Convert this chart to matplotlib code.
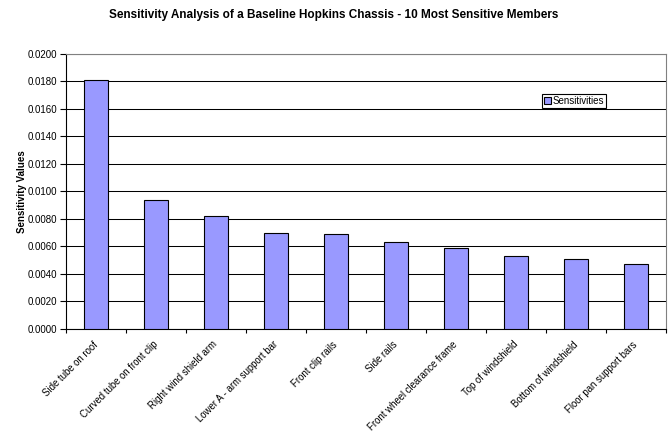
import numpy as np
import matplotlib
matplotlib.use("Agg")
import matplotlib.pyplot as plt

plt.rcParams['font.family'] = ['Liberation Sans', 'DejaVu Sans']

members = [
    "Side tube on roof",
    "Curved tube on front clip",
    "Right wind shield arm",
    "Lower A - arm support bar",
    "Front clip rails",
    "Side rails",
    "Front wheel clearance frame",
    "Top of windshield",
    "Bottom of windshield",
    "Floor pan support bars",
]
sensitivities = [0.0181, 0.00935, 0.0082, 0.0070, 0.00688, 0.00635,
                 0.00587, 0.00534, 0.00512, 0.00476]
y_ticks = [0.0000, 0.0020, 0.0040, 0.0060, 0.0080, 0.0100,
           0.0120, 0.0140, 0.0160, 0.0180, 0.0200]

fig = plt.figure(figsize=(6.68, 4.33), dpi=100)
ax = fig.add_axes([0.0988, 0.2402, 0.8982, 0.6351])

x = np.arange(len(members))
ax.bar(x, sensitivities, width=0.4, color='#9999FF', edgecolor='#000000',
       linewidth=0.8, zorder=3, label='Sensitivities')

ax.set_xlim(-0.5, len(members) - 0.5)
ax.set_ylim(0, 0.02)
ax.set_yticks(y_ticks)
ax.set_yticklabels([f"{v:.4f}" for v in y_ticks], fontsize=7)
ax.yaxis.grid(True, color='#000000', linewidth=0.75, zorder=0)
ax.set_axisbelow(True)

# category boundaries carry the tick marks, centers carry the labels
ax.set_xticks(np.arange(-0.5, len(members), 1.0))
ax.set_xticklabels([])
ax.set_xticks(x, minor=True)
ax.set_xticklabels(members, minor=True, rotation=45, ha='right', va='center',
                   rotation_mode='anchor', fontsize=6.9)
ax.tick_params(axis='x', which='major', length=3, width=0.8, direction='out')
ax.tick_params(axis='x', which='minor', length=0, pad=10)
ax.tick_params(axis='y', length=4.5, width=0.8, direction='out', pad=2)

for side in ('left', 'bottom'):
    ax.spines[side].set_color('#000000')
    ax.spines[side].set_linewidth(0.8)
for side in ('top', 'right'):
    ax.spines[side].set_color('#808080')
    ax.spines[side].set_linewidth(0.8)

ax.set_ylabel("Sensitivity Values", fontsize=7, fontweight='bold', labelpad=0)
fig.text(0.5, 0.965, "Sensitivity Analysis of a Baseline Hopkins Chassis - 10 Most Sensitive Members",
         ha='center', va='center', fontsize=8.5, fontweight='bold')

leg = ax.legend(loc='upper left', bbox_to_anchor=(0.793, 0.855), fontsize=7,
                frameon=True, fancybox=False, edgecolor='#000000', framealpha=1,
                borderpad=0.2, handlelength=0.7, handleheight=0.7,
                handletextpad=0.2, borderaxespad=0)
leg.get_frame().set_linewidth(0.8)

fig.savefig("out.png", dpi=100)
